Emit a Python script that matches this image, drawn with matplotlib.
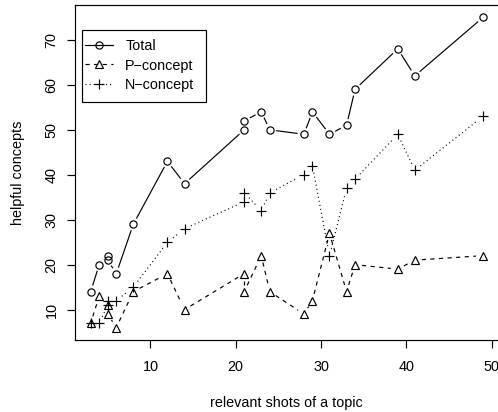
import numpy as np
import matplotlib
matplotlib.use("Agg")
import matplotlib.pyplot as plt
from matplotlib.lines import Line2D
from matplotlib.patches import Rectangle

plt.rcParams['font.family'] = ['Liberation Sans', 'DejaVu Sans']
plt.rcParams['font.size'] = 10.4
plt.rcParams['lines.scale_dashes'] = False

# ---- data ----
shots = [3, 4, 5, 5, 6, 8, 12, 14, 21, 21, 23, 24, 28, 29, 31, 33, 34, 39, 41, 49]
total = [14, 20, 22, 21, 18, 29, 43, 38, 50, 52, 54, 50, 49, 54, 49, 51, 59, 68, 62, 75]
p_concept = [7, 13, 11, 9, 6, 14, 18, 10, 18, 14, 22, 14, 9, 12, 27, 14, 20, 19, 21, 22]
n_concept = [7, 7, 11, 12, 12, 15, 25, 28, 34, 36, 32, 36, 40, 42, 22, 37, 39, 49, 41, 53]
series_names = ["Total", "P\u2212concept", "N\u2212concept"]
x_ticks = [10, 20, 30, 40, 50]
y_ticks = [10, 20, 30, 40, 50, 60, 70]

W, H = 498, 412
fig = plt.figure(figsize=(W / 100, H / 100), dpi=100)
L, R, T, B = 75, 498.7, 5, 340
ax = fig.add_axes([L / W, 1 - B / H, (R - L) / W, (B - T) / H])

xr = max(shots) - min(shots)
ax.set_xlim(min(shots) - 0.04 * xr, max(shots) + 0.04 * xr)
allv = total + p_concept + n_concept
yr = max(allv) - min(allv)
ax.set_ylim(min(allv) - 0.04 * yr, max(allv) + 0.04 * yr)

lw = 0.85
styles = [
    dict(marker='o', ms=5.2, dashes=None),
    dict(marker='^', ms=6.0, dashes=(3.0, 3.2)),
    dict(marker='+', ms=7.0, dashes=(0.75, 2.2)),
]

GAP = 7.0  # pixels, R type="b" gap


def draw_b(xs, ys, st):
    trans = ax.transData
    pts = trans.transform(np.column_stack([xs, ys]))
    inv = trans.inverted()
    for i in range(len(pts) - 1):
        p0, p1 = pts[i], pts[i + 1]
        d = p1 - p0
        dist = np.hypot(*d)
        if dist <= 2 * GAP:
            continue
        u = d / dist
        a = inv.transform(p0 + u * GAP)
        b = inv.transform(p1 - u * GAP)
        ln = Line2D([a[0], b[0]], [a[1], b[1]], color='black', lw=lw)
        if st['dashes'] is not None:
            ln.set_dashes(st['dashes'])
        ax.add_line(ln)
    ax.plot(xs, ys, linestyle='none', marker=st['marker'], ms=st['ms'],
            mfc='none', mec='black', mew=lw)


for ys, st in zip([total, p_concept, n_concept], styles):
    draw_b(shots, ys, st)

ax.set_xticks(x_ticks)
ax.set_yticks(y_ticks)
ax.set_yticklabels([str(v) for v in y_ticks], rotation=90, va='center')
ax.tick_params(axis='both', direction='out', length=5.8, width=lw, color='black',
               labelsize=10.4)
ax.tick_params(axis='x', pad=8.5)
ax.tick_params(axis='y', pad=6.0)
for s in ax.spines.values():
    s.set_linewidth(lw)

ax.set_xlabel("relevant shots of a topic", fontsize=10.4, labelpad=16)
ax.set_ylabel("helpful concepts", fontsize=10.4, labelpad=14)

# legend (frame drawn separately, like R's legend box)
handles = []
for name, st in zip(series_names, styles):
    h = Line2D([], [], color='black', lw=lw, marker=st['marker'], ms=st['ms'],
               mfc='none', mec='black', mew=lw)
    if st['dashes'] is not None:
        h.set_dashes(st['dashes'])
    handles.append(h)


def px2ax(px, py):
    return (px - L) / (R - L), (B - py) / (B - T)


hx, hy = px2ax(85, 39.5)
leg = ax.legend(handles, series_names, loc='upper left', bbox_to_anchor=(hx, hy),
                borderaxespad=0, frameon=False,
                handlelength=1.95, handletextpad=0.83, labelspacing=0.35,
                borderpad=0.0, fontsize=10.4)
bx0, by0 = px2ax(82, 102)
bx1, by1 = px2ax(206, 30)
ax.add_patch(Rectangle((bx0, by0), bx1 - bx0, by1 - by0, transform=ax.transAxes,
                       fill=False, edgecolor='black', lw=lw, zorder=4))

fig.savefig("out.png", dpi=100)
